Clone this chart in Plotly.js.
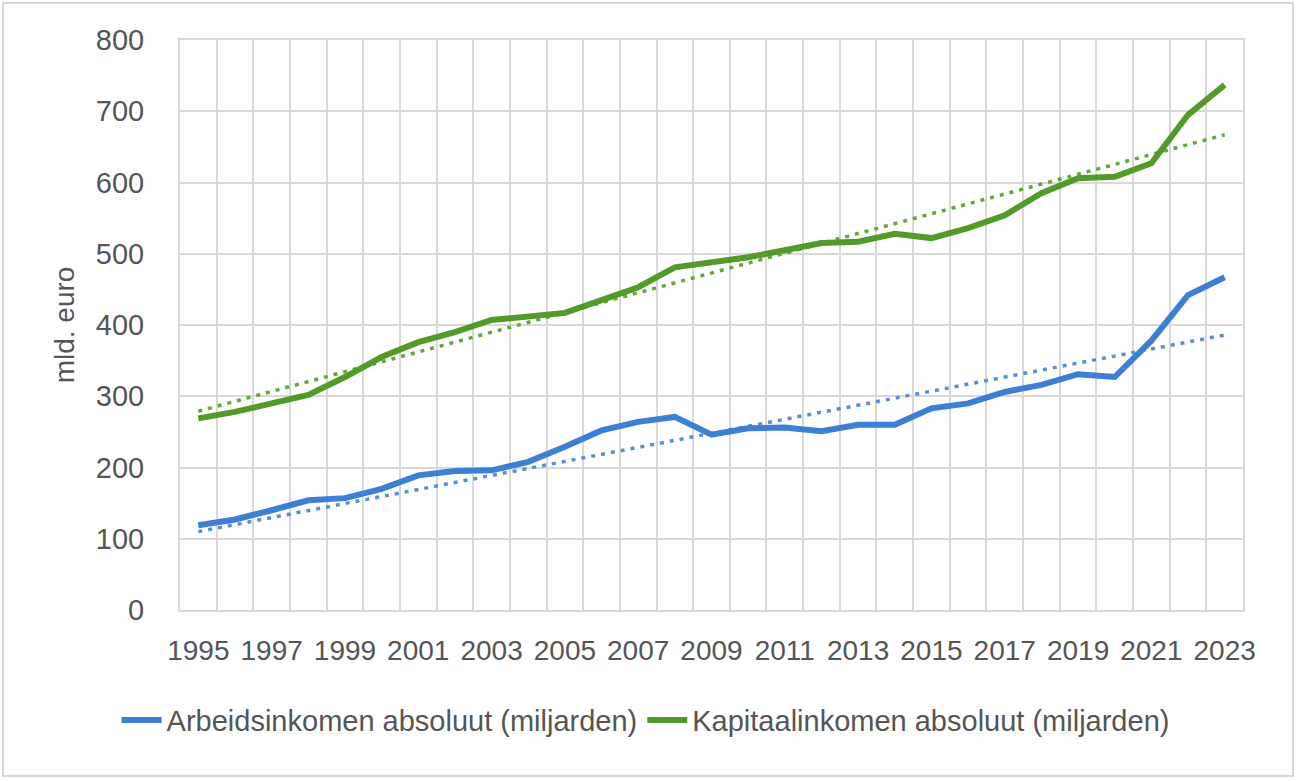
<!DOCTYPE html>
<html>
<head>
<meta charset="utf-8">
<script src="https://cdn.plot.ly/plotly-3.0.1.min.js"></script>
<style>
  html, body { margin: 0; padding: 0; background: #ffffff; }
  #chart { width: 1299px; height: 781px; }
  #frame { position: absolute; left: 2px; top: 2px; width: 1288px; height: 771px;
           border: 2px solid #d6d6d6; pointer-events: none; }
</style>
</head>
<body>
<div id="chart"></div>
<div id="frame"></div>
<script>
// ---- data ----
const years = [1995, 1996, 1997, 1998, 1999, 2000, 2001, 2002, 2003, 2004,
               2005, 2006, 2007, 2008, 2009, 2010, 2011, 2012, 2013, 2014,
               2015, 2016, 2017, 2018, 2019, 2020, 2021, 2022, 2023];
const arbeidsinkomen = [119, 127, 140, 154, 157, 170, 189, 195, 196, 208,
                        229, 252, 264, 271, 246, 255, 256, 251, 260, 260,
                        283, 290, 306, 316, 331, 327, 378, 442, 467];
const kapitaalinkomen = [269, 278, 290, 302, 327, 355, 376, 390, 407, 411,
                         417, 435, 453, 481, 488, 495, 505, 515, 517, 528,
                         522, 536, 554, 585, 606, 608, 627, 695, 737];
// linear trend lines (end points)
const trendYears = [1995, 2023];
const arbeidTrend = [110, 386];
const kapitaalTrend = [279, 667];
// tick labels
const xTickYears = [1995, 1997, 1999, 2001, 2003, 2005, 2007, 2009, 2011, 2013, 2015, 2017, 2019, 2021, 2023];
const xTickLabels = xTickYears.map(String);
const yTicks = [0, 100, 200, 300, 400, 500, 600, 700, 800];
const seriesNames = ['Arbeidsinkomen absoluut (miljarden)', 'Kapitaalinkomen absoluut (miljarden)'];

const blue = '#3d7fd2';
const green = '#539a2b';
const textColor = '#555555';
const gridColor = '#d9d9d9';
const font = 'Liberation Sans, Arial, sans-serif';

const traces = [
  { x: trendYears, y: arbeidTrend, mode: 'lines', showlegend: false, hoverinfo: 'skip',
    line: { color: '#5590d8', width: 3.5, dash: '4px,6px' } },
  { x: trendYears, y: kapitaalTrend, mode: 'lines', showlegend: false, hoverinfo: 'skip',
    line: { color: '#62a83a', width: 3.5, dash: '4px,6px' } },
  { x: years, y: arbeidsinkomen, mode: 'lines', name: seriesNames[0],
    line: { color: blue, width: 6 } },
  { x: years, y: kapitaalinkomen, mode: 'lines', name: seriesNames[1],
    line: { color: green, width: 6 } }
];

const layout = {
  width: 1299, height: 781,
  margin: { l: 180, r: 56, t: 40, b: 171 },
  paper_bgcolor: '#ffffff', plot_bgcolor: '#ffffff',
  font: { family: font, color: textColor, size: 28 },
  showlegend: true,
  legend: {
    orientation: 'h', xref: 'container', yref: 'container',
    x: 0.497, xanchor: 'center', y: 0.078, yanchor: 'middle',
    font: { family: font, color: textColor, size: 29 },
    traceorder: 'normal', itemwidth: 40
  },
  xaxis: {
    type: 'linear', range: [1994.5, 2023.5], fixedrange: true,
    tickmode: 'array', tickvals: xTickYears, ticktext: xTickLabels,
    showgrid: false, zeroline: false,
    showline: true, mirror: true, linecolor: gridColor, linewidth: 2,
    ticks: '', ticklabelstandoff: 14,
    tickfont: { family: font, color: textColor, size: 28 },
    minor: { tick0: 1994.5, dtick: 1, showgrid: true, gridcolor: gridColor, gridwidth: 2, ticks: '' }
  },
  yaxis: {
    range: [0, 800], fixedrange: true,
    tickmode: 'array', tickvals: yTicks, ticktext: yTicks.map(String),
    showgrid: true, gridcolor: gridColor, gridwidth: 2, zeroline: false,
    showline: true, mirror: true, linecolor: gridColor, linewidth: 2,
    ticks: '', ticklabelstandoff: 28,
    tickfont: { family: font, color: textColor, size: 29 },
    title: { text: 'mld. euro', standoff: 13, font: { family: font, color: textColor, size: 28 } },
    automargin: false
  }
};

Plotly.newPlot('chart', traces, layout, { staticPlot: true, displayModeBar: false });
</script>
</body>
</html>
